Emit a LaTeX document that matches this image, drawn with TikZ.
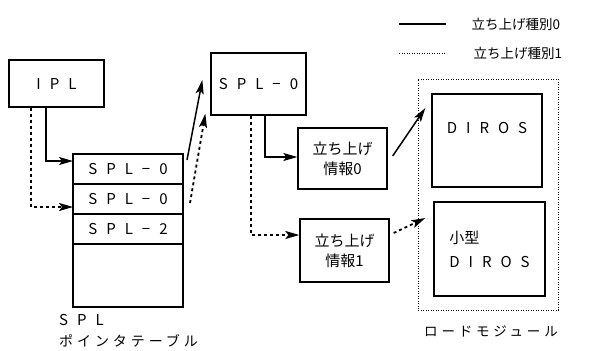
\documentclass[tikz,border=0pt]{standalone}
\usepackage{fontspec}
\setmainfont{Noto Sans CJK JP}
\newfontfamily\latw[LetterSpace=60]{Noto Sans CJK JP}
\newfontfamily\jpw[LetterSpace=28]{Noto Sans CJK JP}
\usetikzlibrary{arrows.meta,positioning,calc}

\begin{document}
\begin{tikzpicture}[
    x=1bp, y=-1bp,
    font=\fontsize{13.5bp}{18bp}\selectfont,
    box/.style={draw, line width=1.3bp, inner sep=2pt, align=center},
    row/.style={draw, line width=1.3bp, outer sep=0pt,
                minimum width=110bp, minimum height=30bp},
    lat/.style={font=\fontsize{15bp}{18bp}\latw},
    jp/.style={font=\fontsize{15bp}{20bp}\selectfont},
    sline/.style={line width=1.5bp},
    dline/.style={line width=1.8bp, dash pattern=on 3bp off 3bp},
    fine/.style={line width=0.8bp, dash pattern=on 1bp off 1.5bp},
    arr/.style={-{Stealth[length=14bp,width=8bp,inset=3bp,sep=0pt]}}
  ]
    \useasboundingbox (0,0) rectangle (591,350);
    % legend
    \node[anchor=west] (leg0) at (468,24) {立ち上げ種別0};
    \node[anchor=west] (leg1) at (470,53) {立ち上げ種別1};
    \coordinate (k0) at (399,24);
    \coordinate (k1) at (399,53);
    \draw[sline] (k0) -- ++(47,0);
    \draw[fine, line width=1bp] (k1) -- ++(47,0);
    % IPL and pointer table
    \node[box, lat, minimum width=95bp, minimum height=47bp] (ipl) at (56.5,83.5) {IPL};
    \node[row, lat] (tbl0) at (128,169) {SPL−0};
    \node[row, lat, below=0pt of tbl0] (tbl1) {SPL−0};
    \node[row, lat, below=0pt of tbl1] (tbl2) {SPL−2};
    \node[row, minimum height=63bp, below=0pt of tbl2] (tblfree) {};
    \node[lat, anchor=north west, inner sep=0pt] (tbllab) at (59,314) {SPL};
    \node[font=\fontsize{14bp}{18bp}\jpw, anchor=north west, inner sep=0pt] (tbllab2) at (59,334) {ポインタテーブル};
    % SPL-0 and start-up info
    \node[box, lat, minimum width=95bp, minimum height=62bp] (spl) at (258.5,84) {SPL−0};
    \node[box, jp, minimum width=89bp, minimum height=61bp] (info0) at (342.5,158.5) {立ち上げ\\情報0};
    \node[box, jp, minimum width=89bp, minimum height=63bp] (info1) at (344.5,250.5) {立ち上げ\\情報1};
    % load module
    \node[draw, fine, minimum width=140bp, minimum height=231bp] (lm) at (488,194.5) {};
    \node[box, lat, minimum width=110bp, minimum height=93bp] (diros) at (487,140.5) {DIROS\\[8bp]};
    \node[box, jp, minimum width=111bp, minimum height=94bp, align=left] (mini) at (489.5,249)
        {小型\\[4bp]{\fontsize{15bp}{18bp}\latw DIROS}};
    \node[font=\fontsize{13.5bp}{18bp}\jpw, anchor=north] (lmlab) at (491,322) {ロードモジュール};
    % type 0
    \draw[sline, arr] ($(ipl.south)+(-10.5,0)$) |- ($(tbl0.west)+(0,-8)$);
    \draw[sline, arr] ($(tbl0.north east)+(4,6)$) -- ($(spl.west)+(-8,-4)$);
    \draw[sline, arr] ($(spl.south)+(6.5,0)$) |- ($(info0.west)+(0,-1.5)$);
    \draw[sline, arr] ($(info0.east)+(5,-2.5)$) -- ($(diros.west)+(-6,-32.5)$);
    % type 1
    \draw[dline, arr] ($(ipl.south)+(-25.5,0)$) |- ($(tbl1.west)+(0,8)$);
    \draw[dline, arr] ($(tbl1.east)+(7,4)$) -- ($(spl.south west)+(-5,-2)$);
    \draw[dline, arr] ($(spl.south)+(-7.5,0)$) |- ($(info1.west)+(0,-15.5)$);
    \draw[dline, arr] ($(info1.east)+(4,-17.5)$) -- ($(mini.west)+(-8,-31)$);
  \end{tikzpicture}
\end{document}
